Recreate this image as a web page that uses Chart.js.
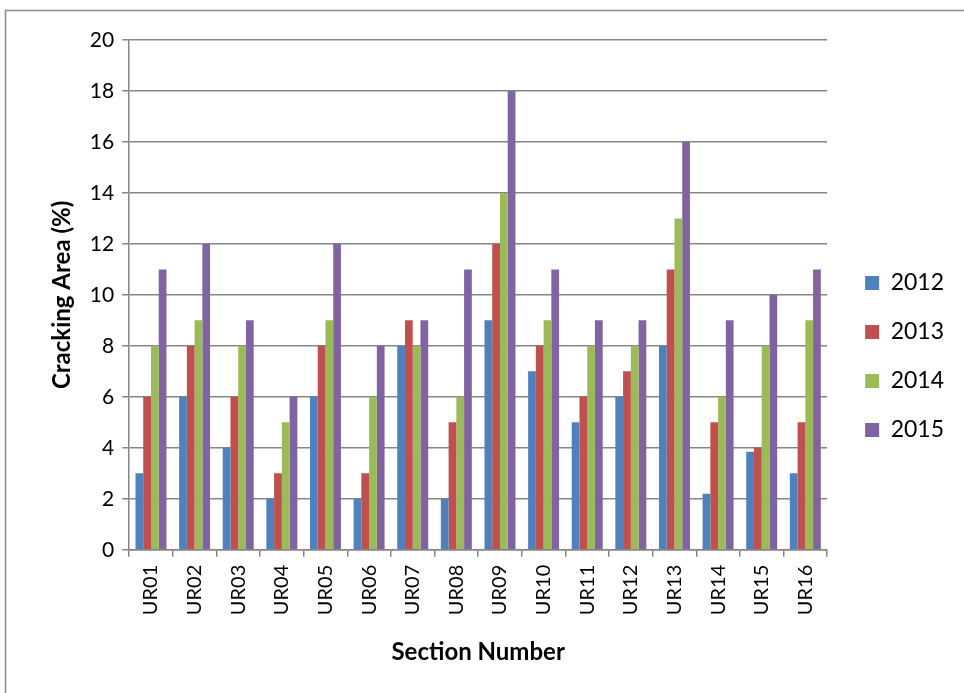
<!DOCTYPE html>
<html>
<head>
<meta charset="utf-8">
<script src="https://cdn.jsdelivr.net/npm/chart.js@4.4.1/dist/chart.umd.min.js"></script>
<style>
  html, body { margin: 0; padding: 0; background: #fff; }
  #wrap { position: absolute; left: 0; top: 0; width: 964px; height: 693px; }
</style>
</head>
<body>
<div id="wrap"><canvas id="c" width="964" height="693"></canvas></div>
<script>
const sections = ['UR01','UR02','UR03','UR04','UR05','UR06','UR07','UR08',
                  'UR09','UR10','UR11','UR12','UR13','UR14','UR15','UR16'];
const crack2012 = [3, 6, 4, 2, 6, 2, 8, 2, 9, 7, 5, 6, 8, 2.2, 3.85, 3];
const crack2013 = [6, 8, 6, 3, 8, 3, 9, 5, 12, 8, 6, 7, 11, 5, 4, 5];
const crack2014 = [8, 9, 8, 5, 9, 6, 8, 6, 14, 9, 8, 8, 13, 6, 8, 9];
const crack2015 = [11, 12, 9, 6, 12, 8, 9, 11, 18, 11, 9, 9, 16, 9, 10, 11];
const yTicks = [0, 2, 4, 6, 8, 10, 12, 14, 16, 18, 20];

const FONT = 'Lato, "Open Sans", sans-serif';
const AXIS_GREY = '#868686';
const LEGEND_GAP = 12;   // extra space between plot area and legend
const LEGEND_DROP = 3;   // nudge legend slightly downward

// thin grey frame around the chart object
const framePlugin = {
  id: 'frame',
  beforeDraw(chart) {
    const ctx = chart.ctx;
    ctx.save();
    ctx.strokeStyle = '#8c8c8c';
    ctx.lineWidth = 1.5;
    ctx.beginPath();
    ctx.moveTo(5.5, 700);
    ctx.lineTo(5.5, 10.5);
    ctx.lineTo(970, 10.5);
    ctx.stroke();
    ctx.restore();
  }
};

// push the legend a little further right of (and lower beside) the plot area
const legendShift = {
  id: 'legendShift',
  afterLayout(chart) {
    const lg = chart.legend;
    if (lg) {
      lg.left += LEGEND_GAP; lg.right += LEGEND_GAP;
      lg.top += LEGEND_DROP; lg.bottom += LEGEND_DROP;
    }
  }
};

new Chart(document.getElementById('c'), {
  type: 'bar',
  data: {
    labels: sections,
    datasets: [
      { label: '2012', data: crack2012, backgroundColor: '#4F81BD' },
      { label: '2013', data: crack2013, backgroundColor: '#C0504D' },
      { label: '2014', data: crack2014, backgroundColor: '#9BBB59' },
      { label: '2015', data: crack2015, backgroundColor: '#8064A2' }
    ]
  },
  plugins: [framePlugin, legendShift],
  options: {
    responsive: false,
    animation: false,
    devicePixelRatio: 1,
    datasets: { bar: { categoryPercentage: 0.71, barPercentage: 1.0 } },
    layout: { padding: { left: 48, top: 40, right: 22, bottom: 26 } },
    plugins: {
      tooltip: { enabled: false },
      legend: {
        position: 'right',
        align: 'center',
        labels: {
          boxWidth: 14,
          boxHeight: 14,
          padding: 26,
          color: '#000',
          font: { family: FONT, size: 23 }
        }
      }
    },
    scales: {
      x: {
        grid: {
          offset: true,
          drawOnChartArea: false,
          drawTicks: true,
          tickLength: 7,
          color: AXIS_GREY,
          lineWidth: 1.5
        },
        border: { display: true, color: AXIS_GREY, width: 1.5 },
        ticks: {
          minRotation: 90,
          maxRotation: 90,
          color: '#000',
          padding: 8,
          font: { family: FONT, size: 20 }
        },
        title: {
          display: true,
          text: 'Section Number',
          color: '#000',
          padding: { top: 15, bottom: 0 },
          font: { family: FONT, size: 24, weight: 'bold' }
        }
      },
      y: {
        min: 0,
        max: 20,
        afterBuildTicks(axis) { axis.ticks = yTicks.map(v => ({ value: v })); },
        grid: {
          color: AXIS_GREY,
          lineWidth: 1.5,
          drawTicks: true,
          tickLength: 7
        },
        border: { display: true, color: AXIS_GREY, width: 1.5 },
        ticks: {
          color: '#000',
          padding: 8,
          font: { family: FONT, size: 21 }
        },
        title: {
          display: true,
          text: 'Cracking Area (%)',
          color: '#000',
          padding: { top: 0, bottom: 5 },
          font: { family: FONT, size: 24, weight: 'bold' }
        }
      }
    }
  }
});
</script>
</body>
</html>
